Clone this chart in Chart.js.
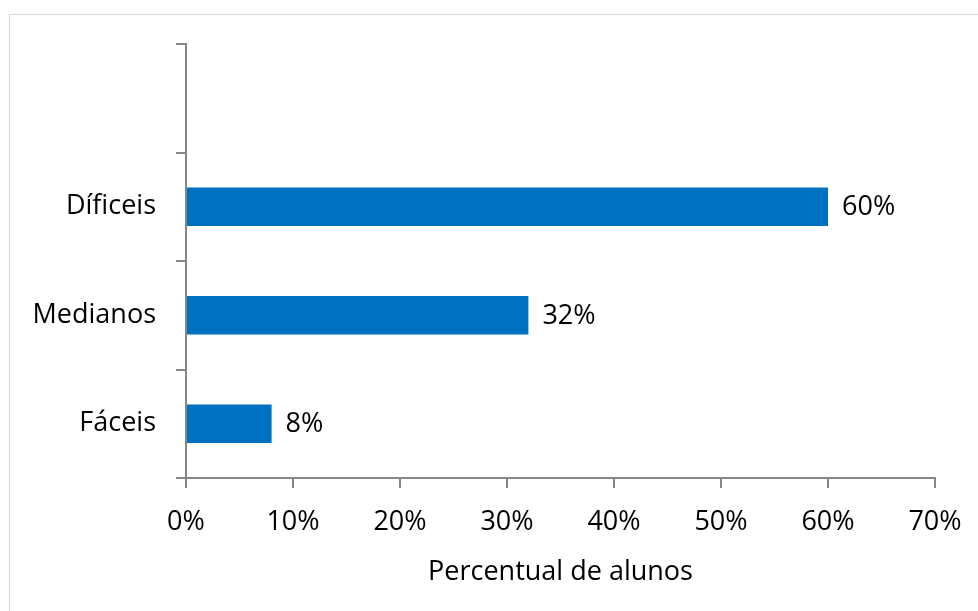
<!DOCTYPE html>
<html>
<head>
<meta charset="utf-8">
<script src="https://cdn.jsdelivr.net/npm/chart.js@4/dist/chart.umd.min.js"></script>
<style>
    html, body { margin: 0; padding: 0; background: #ffffff; overflow: hidden; }
    #wrap { position: relative; width: 978px; height: 611px; }
    #frame {
        position: absolute; left: 9px; top: 14px;
        width: 990px; height: 620px;
        border: 1.5px solid #d9d9d9; box-sizing: border-box;
    }
    canvas { position: absolute; left: 0; top: 0; }
</style>
</head>
<body>
<div id="wrap">
    <div id="frame"></div>
    <canvas id="difficultyChart" width="978" height="611"></canvas>
</div>
<script>
const categories = ["", "Díficeis", "Medianos", "Fáceis"];
const percentValues = [null, 60, 32, 8];
const xTicks = [0, 10, 20, 30, 40, 50, 60, 70];
const axisTitle = "Percentual de alunos";

const FONT = "'Open Sans', 'DejaVu Sans', sans-serif";
const FONT_SIZE = 27;
const AXIS_GRAY = "#868686";

// value labels drawn just past the end of each bar
const barValueLabels = {
    id: "barValueLabels",
    afterDatasetsDraw(chart) {
        const ctx = chart.ctx;
        const meta = chart.getDatasetMeta(0);
        ctx.save();
        ctx.font = FONT_SIZE + "px " + FONT;
        ctx.fillStyle = "#000000";
        ctx.textBaseline = "middle";
        ctx.textAlign = "left";
        meta.data.forEach((bar, i) => {
            const value = percentValues[i];
            if (value === null) return;
            ctx.fillText(value + "%", bar.x + 14, bar.y + 1);
        });
        ctx.restore();
    }
};

const ctx = document.getElementById("difficultyChart");

new Chart(ctx, {
    type: "bar",
    data: {
        labels: categories,
        datasets: [
            {
                data: percentValues,
                backgroundColor: "#0070C0",
                borderWidth: 0,
                barPercentage: 0.355,
                categoryPercentage: 1
            }
        ]
    },
    options: {
        indexAxis: "y",
        responsive: false,
        animation: false,
        layout: {
            padding: { left: 0, top: 44, right: 43, bottom: 0 }
        },
        plugins: {
            legend: { display: false },
            tooltip: { enabled: false }
        },
        scales: {
            x: {
                min: 0,
                max: 70,
                afterBuildTicks(axis) {
                    axis.ticks = xTicks.map(v => ({ value: v }));
                },
                afterFit(axis) {
                    axis.height = 133;
                    axis.paddingLeft = 0;
                    axis.paddingRight = 0;
                },
                ticks: {
                    color: "#000000",
                    padding: 18,
                    font: { family: FONT, size: FONT_SIZE },
                    callback: value => value + "%"
                },
                grid: {
                    drawOnChartArea: false,
                    drawTicks: true,
                    tickLength: 10,
                    color: AXIS_GRAY,
                    lineWidth: 2
                },
                border: { color: AXIS_GRAY, width: 2 },
                title: {
                    display: true,
                    text: axisTitle,
                    color: "#000000",
                    font: { family: FONT, size: FONT_SIZE },
                    padding: { top: 8, bottom: 22 }
                }
            },
            y: {
                afterFit(axis) {
                    axis.width = 186;
                },
                ticks: {
                    color: "#000000",
                    padding: 20,
                    font: { family: FONT, size: FONT_SIZE }
                },
                grid: {
                    offset: true,
                    drawOnChartArea: false,
                    drawTicks: true,
                    tickLength: 10,
                    color: AXIS_GRAY,
                    lineWidth: 2
                },
                border: { color: AXIS_GRAY, width: 2 }
            }
        }
    },
    plugins: [barValueLabels]
});
</script>
</body>
</html>
